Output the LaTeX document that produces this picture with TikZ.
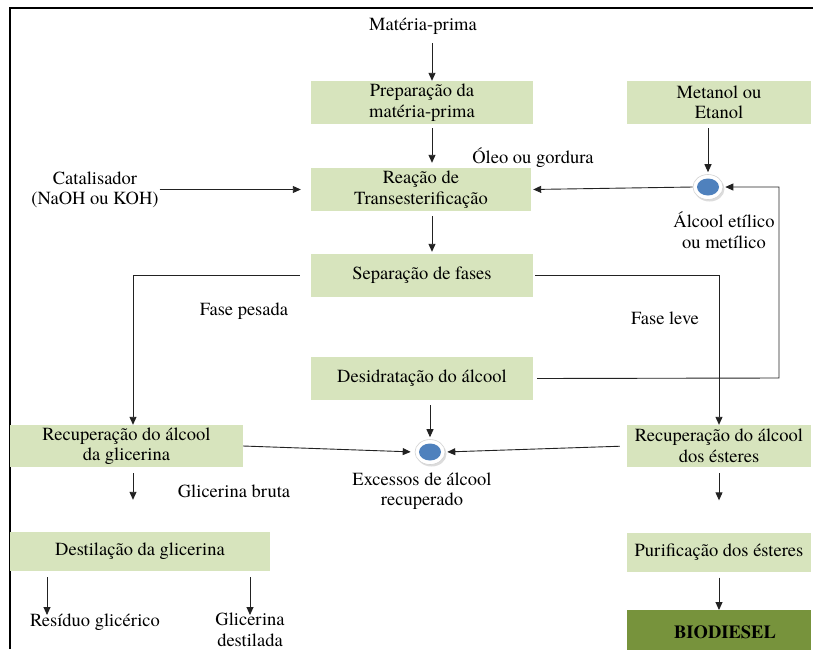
\documentclass[tikz,border=0pt]{standalone}
\usepackage{fontspec}
\setmainfont{texgyretermes}[Extension=.otf, UprightFont=*-regular, BoldFont=*-bold, ItalicFont=*-italic, BoldItalicFont=*-bolditalic]
\usetikzlibrary{calc,shapes.geometric,shadows,arrows.meta}
\definecolor{boxgreen}{HTML}{D7E4BD}
\definecolor{biogreen}{HTML}{77933C}
\definecolor{orbblue}{HTML}{4F81BD}
\definecolor{linegray}{HTML}{222222}
\begin{document}
\begin{tikzpicture}[x=1pt,y=-1pt,
  every node/.style={font=\fontsize{18.5}{20.5}\selectfont, align=center},
  box/.style={fill=boxgreen, inner sep=0pt},
  lbl/.style={inner sep=1pt},
  arr/.style={draw=linegray, line width=0.9pt, -{Triangle[length=8pt,width=7pt]}},
  ln/.style={draw=linegray, line width=0.9pt},
  orb/.style={ellipse, minimum width=30pt, minimum height=25pt, fill=white, draw=gray!35, line width=0.6pt,
     drop shadow={shadow xshift=1.5pt, shadow yshift=-2pt, fill=gray!55}}
]
\useasboundingbox (0,0) rectangle (813,649);
\draw[line width=1.4pt] (10,649) -- (10,8) -- (813,8);

% boxes
\node[box, minimum width=222pt, minimum height=43pt] (prep) at (422,102.5) {Preparação da\\matéria-prima};
\node[box, minimum width=184pt, minimum height=43pt] (meta) at (719,102.5) {Metanol ou\\Etanol};
\node[box, minimum width=220pt, minimum height=43pt] (reac) at (421,189.5) {Reação de\\Transesterificação};
\node[box, minimum width=222pt, minimum height=43pt] (sep) at (422,275.5) {Separação de fases};
\node[box, minimum width=222pt, minimum height=43pt] (desid) at (422,378.5) {Desidratação do álcool};
\node[box, minimum width=233pt, minimum height=42pt] (recg) at (126.5,446) {Recuperação do álcool\\da glicerina};
\node[box, minimum width=184pt, minimum height=42pt] (rece) at (719,446) {Recuperação do álcool\\dos ésteres};
\node[box, minimum width=260pt, minimum height=39pt] (dest) at (140,551.5) {Destilação da glicerina};
\node[box, minimum width=184pt, minimum height=39pt] (puri) at (719,552) {Purificação dos ésteres};
\node[box, fill=biogreen, minimum width=184pt, minimum height=46pt, anchor=north] (bio) at (719,610) {};
\node[font=\fontsize{18.5}{20.5}\selectfont\bfseries] (biot) at (725,632) {BIODIESEL};

% orbs
\node[orb] (c1) at (708,187) {};
\fill[orbblue] (c1.center) ellipse (11pt and 8.5pt);
\node[orb] (c2) at (430,452) {};
\fill[orbblue] (c2.center) ellipse (11pt and 8.5pt);

% labels
\node[lbl] (mp) at (423,26) {Matéria-prima};
\node[lbl] (oleo) at (533,158) {Óleo ou gordura};
\node[lbl] (alc) at (724,230) {Álcool etílico\\ou metílico};
\node[lbl] (cat) at (95,190) {Catalisador\\(NaOH ou KOH)};
\node[lbl] (fp) at (244,311) {Fase pesada};
\node[lbl] (fl) at (665,318) {Fase leve};
\node[lbl] (exc) at (422,491) {Excessos de álcool\\recuperado};
\node[lbl] (gb) at (234,491) {Glicerina bruta};
\node[lbl] (res) at (95,622) {Resíduo glicérico};
\node[lbl] (gd) at (250,630) {Glicerina\\destilada};

% coordinates
\coordinate (fb) at (779,378);
\coordinate (r1) at (47,615);
\coordinate (r2) at (250,615);

% connectors
\draw[arr, shorten <=8pt] ($(mp.south)+(9,0)$) -- ($(mp.south |- prep.north)+(9,0)$);
\draw[arr, shorten <=4pt, shorten >=5pt] ($(prep.south)+(10,0)$) -- ($(prep.south |- reac.north)+(10,0)$);
\draw[arr, shorten <=4pt, shorten >=2pt] (c1 |- meta.south) -- (c1.north);
\draw[arr, shorten >=2pt] (c1.west) -- (reac.east);
\draw[arr, shorten >=10pt] (cat.east |- reac.west) -- (reac.west);
\draw[arr, shorten <=5pt, shorten >=2pt] ($(reac.south)+(11,0)$) -- ($(reac.south |- sep.north)+(11,0)$);
\draw[arr, shorten <=11pt] (sep.west) -| ($(recg.north)+(6.5,0)$);
\draw[arr, shorten <=2pt] (sep.east) -| (rece.north);
\draw[arr, shorten <=4pt, shorten >=2pt] (desid.east) -- (fb) |- (c1.east);
\draw[arr, shorten <=5pt, shorten >=2pt] (c2 |- desid.south) -- (c2.north);
\draw[arr, shorten >=4pt] (recg.east) -- (c2.west);
\draw[arr, shorten <=7pt, shorten >=2pt] (rece.west) -- (c2.east);
\draw[arr, shorten <=6pt, shorten >=32pt] ($(recg.south)+(6.5,0)$) -- ($(recg.south |- dest.north)+(6.5,0)$);
\draw[arr, shorten <=6pt, shorten >=32pt] (rece.south) -- (puri.north);
\draw[arr, shorten <=6pt] (r1 |- dest.south) -- (r1);
\draw[arr, shorten <=6pt] (r2 |- dest.south) -- (r2);
\draw[arr, shorten <=6pt] (puri.south) -- (bio.north);
\end{tikzpicture}
\end{document}
